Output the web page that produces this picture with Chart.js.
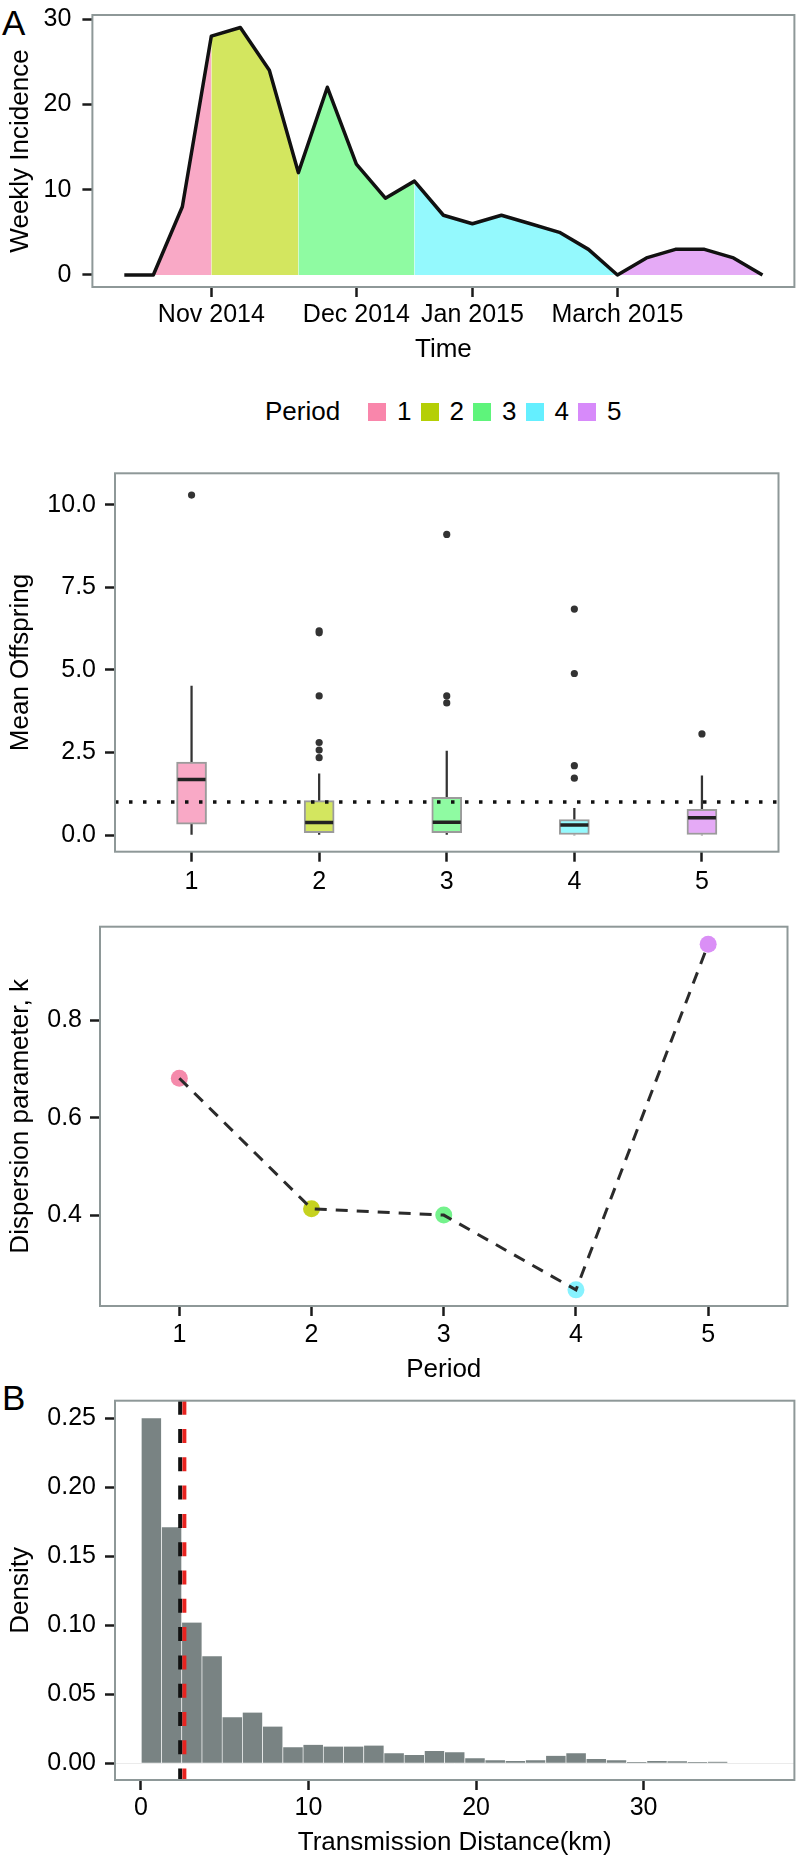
<!DOCTYPE html>
<html>
<head>
<meta charset="utf-8">
<script src="https://cdn.jsdelivr.net/npm/chart.js@4.4.1/dist/chart.umd.min.js"></script>
<style>
    body {
        margin: 0;
        width: 796px;
        height: 1861px;
        position: relative;
        overflow: hidden;
        background: #fff;
        font-family: "Liberation Sans", Arial, Helvetica, sans-serif;
        color: #000;
    }
    canvas {
        position: absolute;
        left: 0;
    }
    .tag {
        position: absolute;
        left: 2px;
        font-size: 35px;
        line-height: 35px;
    }
    .lg {
        position: absolute;
        font-size: 26px;
        line-height: 26px;
        top: 398px;
    }
    .sw {
        position: absolute;
        top: 403px;
        width: 18px;
        height: 18px;
    }
</style>
</head>
<body>
<div class="tag" style="top:5px">A</div>
<div class="tag" style="top:1380px">B</div>
<canvas id="incidence" width="796" height="380" style="top:0px"></canvas>
<div id="legend"></div>
<canvas id="offspring" width="796" height="465" style="top:440px"></canvas>
<canvas id="dispersion" width="796" height="485" style="top:905px"></canvas>
<canvas id="distance" width="796" height="471" style="top:1390px"></canvas>
<script>
// weekly incidence, one value per week
const weeklyIncidence = [0, 0, 8, 28, 29, 24, 12, 22, 13, 9, 11, 7, 6, 7, 6, 5, 3, 0, 2, 3, 3, 2, 0];
// week index where each period starts/ends
const periodBreaks = [1, 3, 6, 10, 17, 22];
const dateTickWeeks = [3, 8, 12, 17];
const dateTickLabels = ["Nov 2014", "Dec 2014", "Jan 2015", "March 2015"];

const periods = ["1", "2", "3", "4", "5"];
const periodColors = ["#f986ab", "#b5cf05", "#5ef47b", "#64efff", "#d78afa"];
const periodFills = ["#f9a9c6", "#d3e65f", "#8ffba2", "#94f9fd", "#e5aaf6"];
const pointColors = ["#f58aab", "#c6d21f", "#74f28c", "#87f2fe", "#da8ff6"];

// mean offspring box plots
const whiskerLow = [0, 0, 0, 0, 0];
const q1 = [0.33, 0.07, 0.07, 0.0, 0.0];
const median = [1.68, 0.38, 0.39, 0.3, 0.52];
const q3 = [2.21, 1.04, 1.14, 0.47, 0.78];
const whiskerHigh = [4.51, 1.85, 2.54, 0.81, 1.79];
const outliers = [
    [10.29],
    [6.12, 6.18, 4.21, 2.8, 2.57, 2.34],
    [9.1, 4.21, 4.0],
    [6.84, 4.89, 2.1, 1.72],
    [3.06],
];
const referenceOffspring = 1;

// dispersion parameter k
const kValues = [0.681, 0.414, 0.401, 0.248, 0.955];

// transmission distance histogram
const binWidthKm = 1.207;
const densities = [
    0.25, 0.171, 0.102, 0.0776, 0.0334, 0.0368, 0.0266, 0.0117, 0.0134, 0.0122,
    0.0122, 0.0129, 0.0073, 0.0061, 0.009, 0.008, 0.0037, 0.0022, 0.0017, 0.0022,
    0.0054, 0.0073, 0.0032, 0.0022, 0.001, 0.0017, 0.0015, 0.001, 0.0012,
];
const refLinesKm = [2.34, 2.59];
const refLineColors = ["#111111", "#e8231f"];

const FONT = '"Liberation Sans", Arial, Helvetica, sans-serif';
const tickFont = { family: FONT, size: 25 };
const titleFont = { family: FONT, size: 26 };
const frameColor = "#8e9898";

function fixedTicks(values) {
    return (scale) => {
        scale.ticks = values.map((v) => ({ value: v }));
    };
}

function sizeTo(prop, px) {
    return (scale) => {
        scale[prop] = px;
        scale.paddingTop = 0;
        scale.paddingBottom = 0;
        scale.paddingLeft = 0;
        scale.paddingRight = 0;
    };
}

function axis(kind, cfg) {
    return {
        type: "linear",
        min: cfg.min,
        max: cfg.max,
        offset: false,
        afterBuildTicks: fixedTicks(cfg.ticks),
        afterFit: sizeTo(kind === "x" ? "height" : "width", cfg.size),
        border: { display: false },
        grid: {
            offset: false,
            drawOnChartArea: !!cfg.gridColor,
            color: cfg.gridColor || "transparent",
            lineWidth: 1,
            tickLength: 10,
            tickWidth: 2.5,
            tickColor: "#1a1a1a",
        },
        ticks: {
            font: tickFont,
            color: "#000",
            padding: cfg.pad,
            autoSkip: false,
            maxRotation: 0,
            minRotation: 0,
            callback: cfg.format,
        },
        title: {
            display: !!cfg.title,
            text: cfg.title,
            font: titleFont,
            color: "#000",
            padding: kind === "x" ? { top: 0, bottom: cfg.titlePad } : { top: 5, bottom: 0 },
        },
    };
}

const frame = {
    id: "frame",
    afterDraw(chart) {
        const { ctx, chartArea: a } = chart;
        ctx.save();
        ctx.strokeStyle = frameColor;
        ctx.lineWidth = 2;
        ctx.strokeRect(a.left, a.top, a.right - a.left, a.bottom - a.top);
        ctx.restore();
    },
};

function baseOptions(pad) {
    return {
        responsive: false,
        animation: false,
        events: [],
        layout: { padding: pad },
        plugins: { legend: { display: false }, tooltip: { enabled: false } },
    };
}

// ---- panel A: epidemic curve ----
const weekPoints = weeklyIncidence.map((v, w) => ({ x: w, y: v }));
const areaSets = periods.map((p, i) => ({
    data: weekPoints.slice(periodBreaks[i], periodBreaks[i + 1] + 1),
    fill: "origin",
    backgroundColor: periodFills[i],
    borderColor: "transparent",
    borderWidth: 0,
    pointRadius: 0,
    order: 2,
}));

new Chart(document.getElementById("incidence"), {
    type: "line",
    data: {
        datasets: [
            ...areaSets,
            {
                data: weekPoints,
                borderColor: "#111",
                borderWidth: 3.5,
                borderJoinStyle: "round",
                pointRadius: 0,
                fill: false,
                order: 1,
            },
        ],
    },
    options: {
        ...baseOptions({ top: 15, right: 1.6, left: 0, bottom: 0 }),
        scales: {
            x: axis("x", {
                min: -1.1, max: 23.1, ticks: dateTickWeeks, size: 93, pad: 3,
                format: (v) => dateTickLabels[dateTickWeeks.indexOf(v)],
                title: "Time", titlePad: 15,
            }),
            y: axis("y", {
                min: -1.41, max: 30.47, ticks: [0, 10, 20, 30], size: 92.4, pad: 11,
                format: (v) => String(v), title: "Weekly Incidence",
            }),
        },
    },
    plugins: [frame],
});

// ---- legend ----
document.getElementById("legend").innerHTML =
    '<span class="lg" style="left:265px">Period</span>' +
    periods
        .map((p, i) => {
            const left = 368 + i * 52.5;
            return `<span class="sw" style="left:${left}px;background:${periodColors[i]}"></span>` +
                `<span class="lg" style="left:${left + 29}px">${p}</span>`;
        })
        .join("");

// ---- panel: mean offspring box plots ----
const refLine = {
    id: "refLine",
    afterDatasetsDraw(chart) {
        const { ctx, chartArea: a, scales } = chart;
        const y = scales.y.getPixelForValue(referenceOffspring);
        ctx.save();
        ctx.strokeStyle = "#111";
        ctx.lineWidth = 3.5;
        ctx.setLineDash([3.5, 10.5]);
        ctx.beginPath();
        ctx.moveTo(a.left, y);
        ctx.lineTo(a.right, y);
        ctx.stroke();
        ctx.restore();
    },
};

const outlierPoints = outliers.flatMap((vals, i) => vals.map((v) => ({ x: i + 1, y: v })));

new Chart(document.getElementById("offspring"), {
    type: "bar",
    data: {
        datasets: [
            {
                data: periods.map((p, i) => ({ x: i + 1, y: [whiskerLow[i], q1[i]] })),
                backgroundColor: "#333",
                barThickness: 1.6,
                grouped: false,
                order: 5,
            },
            {
                data: periods.map((p, i) => ({ x: i + 1, y: [q3[i], whiskerHigh[i]] })),
                backgroundColor: "#333",
                barThickness: 1.6,
                grouped: false,
                order: 5,
            },
            {
                data: periods.map((p, i) => ({ x: i + 1, y: [q1[i], q3[i]] })),
                backgroundColor: periodFills,
                borderColor: "#9b9b9b",
                borderWidth: 2,
                borderSkipped: false,
                barThickness: 30,
                grouped: false,
                order: 4,
            },
            {
                type: "scatter",
                data: periods.map((p, i) => ({ x: i + 1, y: median[i] })),
                pointStyle: "line",
                pointRadius: 14,
                pointBorderWidth: 3.5,
                pointBorderColor: "#222",
                order: 3,
            },
            {
                type: "scatter",
                data: outlierPoints,
                pointRadius: 3.6,
                pointBackgroundColor: "#333",
                pointBorderWidth: 0,
                order: 2,
            },
        ],
    },
    options: {
        ...baseOptions({ top: 33.3, right: 1.6, left: 0, bottom: 0 }),
        scales: {
            x: axis("x", {
                min: 0.4, max: 5.6, ticks: [1, 2, 3, 4, 5], size: 53.3, pad: 5,
                format: (v) => periods[v - 1],
            }),
            y: axis("y", {
                min: -0.505, max: 10.95, ticks: [0, 2.5, 5, 7.5, 10], size: 115, pad: 9,
                format: (v) => v.toFixed(1), title: "Mean Offspring",
            }),
        },
    },
    plugins: [refLine, frame],
});

// ---- panel: dispersion parameter ----
const kPoints = kValues.map((v, i) => ({ x: i + 1, y: v }));

new Chart(document.getElementById("dispersion"), {
    type: "scatter",
    data: {
        datasets: [
            {
                data: kPoints,
                pointRadius: 8.5,
                pointBackgroundColor: pointColors,
                pointBorderWidth: 0,
                order: 2,
            },
            {
                type: "line",
                data: kPoints,
                showLine: true,
                borderColor: "#2b2b2b",
                borderWidth: 3,
                borderDash: [12, 9],
                pointRadius: 0,
                fill: false,
                order: 1,
            },
        ],
    },
    options: {
        ...baseOptions({ top: 21.7, right: 1.6, left: 0, bottom: 0 }),
        scales: {
            x: axis("x", {
                min: 0.4, max: 5.6, ticks: [1, 2, 3, 4, 5], size: 84, pad: 4,
                format: (v) => periods[v - 1], title: "Period", titlePad: 5,
            }),
            y: axis("y", {
                min: 0.215, max: 0.991, ticks: [0.4, 0.6, 0.8], size: 100, pad: 8,
                format: (v) => v.toFixed(1), title: "Dispersion parameter, k",
            }),
        },
    },
    plugins: [frame],
});

// ---- panel B: transmission distance ----
const distanceLines = {
    id: "distanceLines",
    afterDatasetsDraw(chart) {
        const { ctx, chartArea: a, scales } = chart;
        ctx.save();
        ctx.lineWidth = 4;
        ctx.setLineDash([14, 14.3]);
        refLinesKm.forEach((km, i) => {
            const x = scales.x.getPixelForValue(km);
            ctx.strokeStyle = refLineColors[i];
            ctx.beginPath();
            ctx.moveTo(x, a.top);
            ctx.lineTo(x, a.bottom);
            ctx.stroke();
        });
        ctx.restore();
    },
};

new Chart(document.getElementById("distance"), {
    type: "bar",
    data: {
        datasets: [
            {
                data: densities.map((d, i) => ({ x: (i + 0.5) * binWidthKm, y: d })),
                backgroundColor: "#798383",
                borderColor: "rgba(255,255,255,0.06)",
                borderWidth: { left: 1, right: 0, top: 0, bottom: 0 },
                barPercentage: 1,
                categoryPercentage: 1,
            },
        ],
    },
    options: {
        ...baseOptions({ top: 10.7, right: 1.6, left: 0, bottom: 0 }),
        scales: {
            x: axis("x", {
                min: -1.55, max: 39.0, ticks: [0, 10, 20, 30], size: 81, pad: 3,
                format: (v) => String(v), title: "Transmission Distance(km)", titlePad: 3,
            }),
            y: axis("y", {
                min: -0.0121, max: 0.2628, ticks: [0, 0.05, 0.1, 0.15, 0.2, 0.25], size: 115, pad: 9,
                format: (v) => v.toFixed(2), title: "Density",
                gridColor: (c) => (c.tick && c.tick.value === 0 ? "#ebebeb" : "transparent"),
            }),
        },
    },
    plugins: [distanceLines, frame],
});
</script>
</body>
</html>
